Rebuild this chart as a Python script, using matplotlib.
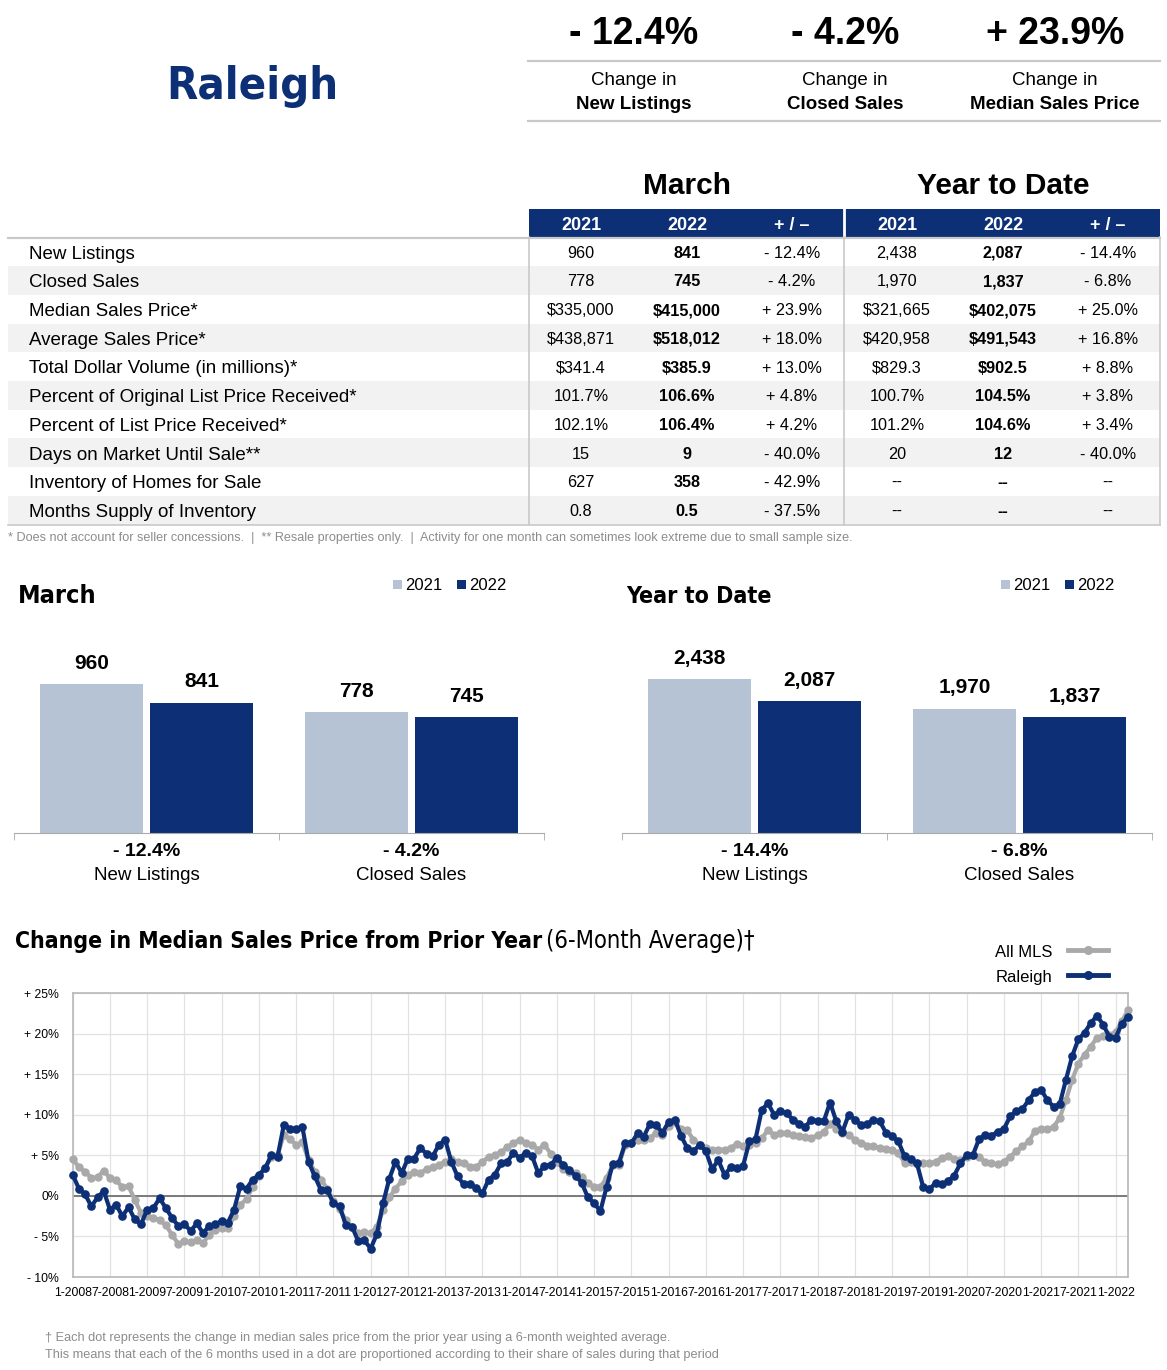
import numpy as np
import matplotlib
matplotlib.use("Agg")
import matplotlib.pyplot as plt
import matplotlib.font_manager as fm
from matplotlib.patches import Rectangle
from matplotlib.lines import Line2D

# ---------------- data ----------------
city = "Raleigh"
kpi_changes = ["- 12.4%", "- 4.2%", "+ 23.9%"]
kpi_names = ["New Listings", "Closed Sales", "Median Sales Price"]

row_labels = ["New Listings", "Closed Sales", "Median Sales Price*", "Average Sales Price*",
              "Total Dollar Volume (in millions)*", "Percent of Original List Price Received*",
              "Percent of List Price Received*", "Days on Market Until Sale**",
              "Inventory of Homes for Sale", "Months Supply of Inventory"]
mar_2021 = ["960", "778", "$335,000", "$438,871", "$341.4", "101.7%", "102.1%", "15", "627", "0.8"]
mar_2022 = ["841", "745", "$415,000", "$518,012", "$385.9", "106.6%", "106.4%", "9", "358", "0.5"]
mar_chg = ["- 12.4%", "- 4.2%", "+ 23.9%", "+ 18.0%", "+ 13.0%", "+ 4.8%", "+ 4.2%", "- 40.0%", "- 42.9%", "- 37.5%"]
ytd_2021 = ["2,438", "1,970", "$321,665", "$420,958", "$829.3", "100.7%", "101.2%", "20", "--", "--"]
ytd_2022 = ["2,087", "1,837", "$402,075", "$491,543", "$902.5", "104.5%", "104.6%", "12", "--", "--"]
ytd_chg = ["- 14.4%", "- 6.8%", "+ 25.0%", "+ 16.8%", "+ 8.8%", "+ 3.8%", "+ 3.4%", "- 40.0%", "--", "--"]
col_headers = ["2021", "2022", "+ / \u2013"]

bar_categories = ["New Listings", "Closed Sales"]
bar_march_2021 = [960, 778]
bar_march_2022 = [841, 745]
bar_march_chg = ["- 12.4%", "- 4.2%"]
bar_ytd_2021 = [2438, 1970]
bar_ytd_2022 = [2087, 1837]
bar_ytd_chg = ["- 14.4%", "- 6.8%"]

raleigh = [2.6, 0.9, 0.2, -1.3, -0.2, 0.6, -1.7, -1.1, -2.5, -1.4,
           -2.9, -3.5, -1.7, -1.5, -0.3, -1.5, -2.7, -3.7, -3.5, -4.3,
           -3.4, -4.6, -3.7, -3.5, -3.1, -3.3, -1.7, 1.2, 0.9, 2.0,
           2.6, 3.4, 5.0, 4.8, 8.7, 8.3, 8.2, 8.5, 4.2, 2.4,
           0.7, 0.7, -0.9, -1.3, -3.6, -3.8, -5.6, -5.5, -6.5, -4.7,
           -0.9, 2.1, 4.2, 2.8, 4.6, 4.6, 5.9, 5.2, 4.9, 6.3,
           6.9, 4.2, 2.4, 1.4, 1.4, 1.0, 0.3, 2.0, 2.6, 4.0,
           4.2, 5.3, 4.7, 5.3, 4.9, 2.8, 3.7, 3.8, 4.7, 3.8,
           3.2, 2.5, 1.6, -0.2, -0.9, -1.9, 1.1, 3.9, 4.1, 6.5,
           6.5, 7.7, 7.3, 8.9, 8.7, 7.8, 9.1, 9.4, 7.4, 5.9,
           5.5, 6.3, 5.5, 3.3, 4.4, 2.6, 3.5, 3.4, 3.7, 6.7,
           7.0, 10.6, 11.4, 10.0, 10.4, 10.2, 9.4, 8.9, 8.5, 9.4,
           9.2, 9.2, 11.5, 9.2, 7.9, 10.0, 9.4, 8.7, 8.9, 9.3,
           9.2, 7.8, 7.4, 6.7, 4.9, 4.5, 4.0, 1.1, 0.8, 1.6,
           1.4, 1.8, 2.5, 4.0, 5.0, 5.0, 7.0, 7.5, 7.4, 7.9,
           8.2, 9.8, 10.4, 10.7, 11.8, 12.8, 13.1, 11.8, 11.0, 11.3,
           14.3, 17.2, 19.3, 20.1, 21.3, 22.2, 21.1, 19.6, 19.5, 21.2,
           22.1]
all_mls = [4.6, 3.5, 3.0, 2.2, 2.3, 3.1, 2.2, 1.9, 1.1, 1.2,
           -0.5, -2.1, -2.5, -2.7, -3.0, -3.6, -4.8, -5.9, -5.6, -5.7,
           -5.5, -5.8, -4.8, -4.2, -3.9, -4.0, -2.5, -1.1, -0.4, 1.1,
           2.5, 3.4, 4.8, 5.0, 7.5, 7.0, 6.3, 6.6, 4.4, 3.0,
           2.0, 0.9, -0.6, -1.6, -3.0, -3.8, -4.6, -4.5, -4.6, -3.8,
           -1.8, -0.2, 0.9, 1.8, 2.6, 2.9, 2.8, 3.3, 3.6, 3.8,
           4.2, 4.5, 4.2, 4.0, 3.6, 3.6, 4.2, 4.8, 5.0, 5.4,
           6.0, 6.5, 6.9, 6.5, 6.3, 5.7, 6.3, 5.2, 4.2, 3.3,
           3.0, 2.8, 2.3, 1.6, 1.1, 1.1, 2.2, 3.8, 3.8, 6.3,
           6.5, 6.9, 6.9, 7.1, 7.8, 7.5, 8.6, 9.1, 8.2, 8.1,
           6.9, 6.3, 5.9, 5.7, 5.7, 5.7, 5.9, 6.4, 6.1, 6.3,
           6.5, 7.1, 8.1, 7.5, 7.8, 7.7, 7.5, 7.4, 7.2, 7.1,
           7.5, 7.9, 8.9, 8.3, 7.8, 7.5, 6.9, 6.5, 6.2, 6.1,
           5.9, 5.8, 5.7, 5.3, 4.1, 4.2, 3.9, 4.0, 4.0, 4.2,
           4.7, 4.9, 4.6, 4.4, 4.8, 5.0, 4.8, 4.2, 4.0, 3.9,
           4.2, 4.8, 5.5, 6.1, 6.7, 8.0, 8.3, 8.2, 8.5, 9.6,
           11.8, 14.3, 16.3, 17.4, 18.4, 19.5, 19.7, 19.8, 20.2, 21.5,
           22.9]
x_tick_labels = ["1-2008", "7-2008", "1-2009", "7-2009", "1-2010", "7-2010", "1-2011", "7-2011",
                 "1-2012", "7-2012", "1-2013", "7-2013", "1-2014", "7-2014", "1-2015", "7-2015",
                 "1-2016", "7-2016", "1-2017", "7-2017", "1-2018", "7-2018", "1-2019", "7-2019",
                 "1-2020", "7-2020", "1-2021", "7-2021", "1-2022"]
y_ticks = [-10, -5, 0, 5, 10, 15, 20, 25]
y_tick_labels = ["- 10%", "- 5%", "0%", "+ 5%", "+ 10%", "+ 15%", "+ 20%", "+ 25%"]

# ---------------- style ----------------
NAVY = "#0c2f76"
LIGHT = "#b5c3d4"
GREY_LINE = "#a9a9a9"
RULE = "#c9c9c9"
BODY = "Liberation Sans"

names = {f.name for f in fm.fontManager.ttflist}
if "Liberation Sans Narrow" in names:
    COND = {"family": "Liberation Sans Narrow"}
elif any(f.name == "DejaVu Sans" and f.stretch in ("condensed", "semi-condensed", 500 - 125) for f in fm.fontManager.ttflist):
    COND = {"family": "DejaVu Sans", "fontstretch": "condensed"}
else:
    COND = {"family": "Liberation Sans"}

W, H = 1167, 1370
fig = plt.figure(figsize=(W / 100, H / 100), dpi=100)
fig.patch.set_facecolor("white")
renderer = fig.canvas.get_renderer()


def txt(x, yc, s, size, ha="left", weight="normal", color="black", fam=None, **kw):
    base = yc + 0.36 * size * 100 / 72
    props = {"family": BODY} if fam is None else dict(fam)
    return fig.text(x / W, 1 - base / H, s, fontsize=size, ha=ha, va="baseline",
                    fontweight=weight, color=color, **props, **kw)


def btxt(x, base, s, size, ha="left", weight="normal", color="black", fam=None, **kw):
    props = {"family": BODY} if fam is None else dict(fam)
    return fig.text(x / W, 1 - base / H, s, fontsize=size, ha=ha, va="baseline",
                    fontweight=weight, color=color, **props, **kw)


def fit(t, target_w):
    w = t.get_window_extent(renderer).width
    t.set_fontsize(t.get_fontsize() * target_w / w)
    return t


def hline(x1, x2, y, color=RULE, lw=1.0):
    fig.add_artist(Line2D([x1 / W, x2 / W], [1 - y / H, 1 - y / H], color=color, lw=lw,
                          transform=fig.transFigure))


def vline(x, y1, y2, color=RULE, lw=1.0):
    fig.add_artist(Line2D([x / W, x / W], [1 - y1 / H, 1 - y2 / H], color=color, lw=lw,
                          transform=fig.transFigure))


def rect(x1, y1, x2, y2, color):
    fig.add_artist(Rectangle((x1 / W, 1 - y2 / H), (x2 - x1) / W, (y2 - y1) / H,
                             transform=fig.transFigure, facecolor=color, edgecolor="none", zorder=0))


# ---------------- header ----------------
t = btxt(252, 99, city, 40, ha="center", weight="bold", color=NAVY, fam=COND)
fit(t, 172)

kpi_x = [634, 845, 1055]
for xc, ch, nm in zip(kpi_x, kpi_changes, kpi_names):
    txt(xc, 30, ch, 27, ha="center", weight="bold")
    txt(xc, 78, "Change in", 13.5, ha="center")
    txt(xc, 102, nm, 13.5, ha="center", weight="bold")
hline(528, 1160, 61, lw=1.6)
hline(528, 1160, 121, lw=1.6)

# ---------------- table ----------------
txt(687, 183, "March", 21.5, ha="center", weight="bold")
txt(1003, 183, "Year to Date", 21.5, ha="center", weight="bold")
rect(529, 209, 1160, 237, NAVY)
vline(844, 209, 237, color="white", lw=2)
col_x = [581, 687, 792, 897, 1003, 1108]
for i, xc in enumerate(col_x):
    txt(xc, 223, col_headers[i % 3], 13, ha="center", weight="bold", color="white")

row_h = 28.7
top = 237.5
for k, lab in enumerate(row_labels):
    yc = top + row_h * k + row_h / 2
    if k % 2 == 1:
        rect(8, top + row_h * k, 1160, top + row_h * (k + 1), "#f2f2f2")
    txt(29, yc, lab, 13.5)
    vals = [mar_2021[k], mar_2022[k], mar_chg[k], ytd_2021[k], ytd_2022[k], ytd_chg[k]]
    for j, (xc, v) in enumerate(zip(col_x, vals)):
        txt(xc, yc, v, 11.7, ha="center", weight="bold" if j in (1, 4) else "normal")
hline(8, 1160, 237.5, lw=1.6)
hline(8, 1160, top + row_h * len(row_labels), lw=1.2)
for xv in (529, 844, 1160):
    vline(xv, 237, top + row_h * len(row_labels), lw=1.2)

t = txt(8, 537, "* Does not account for seller concessions.  |  ** Resale properties only.  |  "
        "Activity for one month can sometimes look extreme due to small sample size.",
        8.3, color="#8c8c8c")
fit(t, 843)

# ---------------- bar charts ----------------
def bar_panel(x0, x1, title, title_w, v21, v22, chg, ymax, leg_x):
    ax = fig.add_axes([x0 / W, 1 - 833 / H, (x1 - x0) / W, (833 - 640) / H])
    xs = np.arange(len(bar_categories))
    off, bw = 0.2075, 0.39
    b1 = ax.bar(xs - off, v21, bw, color=LIGHT)
    b2 = ax.bar(xs + off, v22, bw, color=NAVY)
    for bars, vals in ((b1, v21), (b2, v22)):
        for r, v in zip(bars, vals):
            ax.annotate(f"{v:,}", (r.get_x() + r.get_width() / 2, v), xytext=(0, 14.8),
                        textcoords="offset points", ha="center", va="center",
                        fontsize=15, fontweight="bold", family=BODY)
    for i, (c, name) in enumerate(zip(chg, bar_categories)):
        ax.annotate(c, (i, 0), xytext=(0, -18 * 0.72), textcoords="offset points",
                    ha="center", va="center", fontsize=14, fontweight="bold", family=BODY,
                    annotation_clip=False)
        ax.annotate(name, (i, 0), xytext=(0, -42 * 0.72), textcoords="offset points",
                    ha="center", va="center", fontsize=13.5, family=BODY,
                    annotation_clip=False)
    ax.set_xlim(-0.5, len(bar_categories) - 0.5)
    ax.set_ylim(0, ymax)
    for s in ("left", "right", "top"):
        ax.spines[s].set_visible(False)
    ax.spines["bottom"].set_color("#aaaaaa")
    ax.set_yticks([])
    ax.set_xticks([])
    ax.set_xticks(np.arange(-0.5, len(bar_categories)), minor=True)
    ax.tick_params(axis="x", which="minor", length=5, color="#aaaaaa", labelbottom=False)
    ax.patch.set_alpha(0)
    tt = btxt(x0 + 4, 603, title, 22, weight="bold", fam=COND)
    fit(tt, title_w)
    for k, (col, lab) in enumerate(((LIGHT, "2021"), (NAVY, "2022"))):
        sx = leg_x + k * 64
        rect(sx, 580, sx + 9, 589, col)
        txt(sx + 12, 584.5, lab, 12)
    return ax


bar_panel(14, 544, "March", 78, bar_march_2021, bar_march_2022, bar_march_chg, 1244, 393)
bar_panel(622, 1152, "Year to Date", 145, bar_ytd_2021, bar_ytd_2022, bar_ytd_chg, 3055, 1001)

# ---------------- line chart ----------------
t1 = btxt(15, 948, "Change in Median Sales Price from Prior Year", 21, weight="bold", fam=COND)
fit(t1, 525)
t2 = btxt(546, 948, "(6-Month Average)\u2020", 21, fam=COND)
fit(t2, 209)

ax = fig.add_axes([72.7 / W, 1 - 1277 / H, (1128 - 72.7) / W, (1277 - 993) / H])
months = np.arange(len(raleigh))
ax.plot(months, all_mls, color=GREY_LINE, lw=3.0, marker="o", ms=5.0, clip_on=False, zorder=3)
ax.plot(months, raleigh, color=NAVY, lw=3.0, marker="o", ms=5.2, clip_on=False, zorder=4)
ax.axhline(0, color="#7a7a7a", lw=1.4, zorder=2)
ax.set_xlim(0, len(raleigh) - 1)
ax.set_ylim(-10, 25)
ax.set_xticks(np.arange(0, len(raleigh), 6))
ax.set_xticklabels(x_tick_labels, fontsize=8.8, family=BODY)
ax.set_yticks(y_ticks)
ax.set_yticklabels(y_tick_labels, fontsize=8.8, family=BODY)
ax.tick_params(length=0, pad=7)
ax.tick_params(axis="y", pad=10)
ax.grid(True, color="#e2e2e2", lw=0.9, zorder=0)
ax.set_axisbelow(True)
for s in ax.spines.values():
    s.set_color("#b8b8b8")
    s.set_linewidth(1.2)

# line legend
for yc, lab, col in ((951, "All MLS", GREY_LINE), (976, "Raleigh", NAVY)):
    txt(1052, yc, lab, 12, ha="right")
    fig.add_artist(Line2D([1068 / W, 1108 / W], [1 - (yc - 1) / H] * 2, color=col, lw=3.5,
                          transform=fig.transFigure))
    fig.add_artist(Line2D([1088 / W], [1 - (yc - 1) / H], color=col, marker="o", ms=5.5,
                          transform=fig.transFigure))

t = txt(45, 1337, "\u2020 Each dot represents the change in median sales price from the prior year "
        "using a 6-month weighted average.", 8.5, color="#8c8c8c")
fit(t, 621)
t = txt(45, 1354, "This means that each of the 6 months used in a dot are proportioned according "
        "to their share of sales during that period", 8.5, color="#8c8c8c")
fit(t, 670)

fig.savefig("out.png", dpi=100, facecolor="white")
